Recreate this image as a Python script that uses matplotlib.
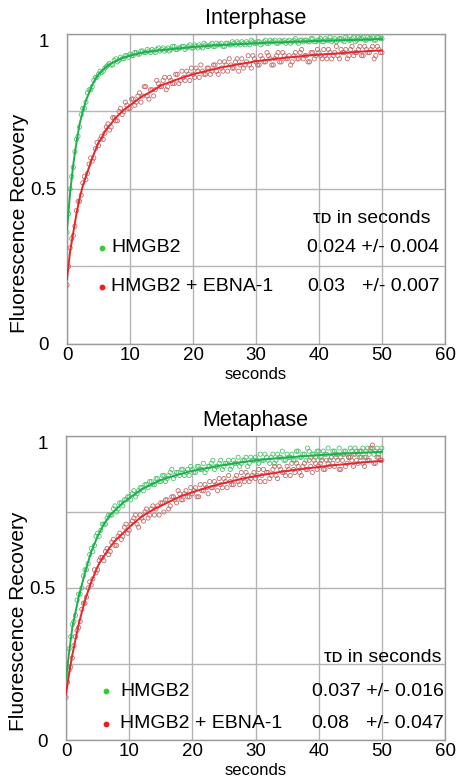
import numpy as np
import matplotlib
matplotlib.use('Agg')
import matplotlib.pyplot as plt

plt.rcParams['font.family'] = ['Liberation Sans', 'DejaVu Sans']

# время съёмки точек, с (два набора: целые/половинные и четвертные отсчёты)
t_a = np.arange(0, 50.01, 0.5)
t_b = np.arange(0.25, 50, 0.5)

# сетка для подогнанных кривых
t_fit = [0, 0.5, 1, 1.5, 2, 2.5, 3, 3.5, 4, 4.5, 5, 5.5, 6, 6.5, 7, 7.5, 8, 8.5, 9, 9.5, 10,
         11, 12, 13, 14, 15, 16, 17, 18, 19, 20,
         22, 24, 26, 28, 30, 32, 34, 36, 38, 40, 42, 44, 46, 48, 50]

# Interphase
inter_hmgb2_a = [0.36, 0.50, 0.57, 0.66, 0.70, 0.76, 0.78, 0.82, 0.83, 0.86,
                 0.87, 0.875, 0.89, 0.90, 0.90, 0.915, 0.91, 0.925, 0.92, 0.93,
                 0.935, 0.93, 0.94, 0.935, 0.945, 0.94, 0.945, 0.95, 0.94, 0.955,
                 0.95, 0.945, 0.955, 0.95, 0.96, 0.95, 0.955, 0.96, 0.955, 0.965,
                 0.955, 0.96, 0.965, 0.955, 0.965, 0.96, 0.97, 0.96, 0.965, 0.97,
                 0.96, 0.97, 0.965, 0.97, 0.975, 0.965, 0.97, 0.975, 0.965, 0.975,
                 0.97, 0.975, 0.97, 0.98, 0.97, 0.975, 0.98, 0.97, 0.975, 0.98,
                 0.975, 0.97, 0.98, 0.975, 0.98, 0.975, 0.98, 0.975, 0.985, 0.975,
                 0.98, 0.975, 0.985, 0.98, 0.975, 0.985, 0.98, 0.985, 0.975, 0.985,
                 0.98, 0.99, 0.98, 0.985, 0.99, 0.98, 0.985, 0.99, 0.98, 0.99,
                 0.985]
inter_hmgb2_b = [0.42, 0.54, 0.62, 0.67, 0.74, 0.76, 0.81, 0.82, 0.85, 0.86,
                 0.88, 0.88, 0.895, 0.905, 0.90, 0.92, 0.915, 0.92, 0.93, 0.925,
                 0.93, 0.94, 0.935, 0.945, 0.94, 0.95, 0.94, 0.945, 0.95, 0.945,
                 0.955, 0.95, 0.945, 0.96, 0.95, 0.955, 0.96, 0.95, 0.96, 0.955,
                 0.965, 0.955, 0.96, 0.97, 0.96, 0.965, 0.96, 0.97, 0.965, 0.96,
                 0.97, 0.965, 0.975, 0.965, 0.97, 0.975, 0.965, 0.97, 0.98, 0.97,
                 0.975, 0.965, 0.975, 0.97, 0.98, 0.975, 0.97, 0.98, 0.975, 0.97,
                 0.98, 0.975, 0.985, 0.97, 0.98, 0.98, 0.975, 0.985, 0.975, 0.98,
                 0.985, 0.975, 0.98, 0.99, 0.98, 0.975, 0.985, 0.98, 0.99, 0.98,
                 0.985, 0.975, 0.99, 0.985, 0.98, 0.99, 0.985, 0.98, 0.99, 0.985]
inter_ebna_a = [0.19, 0.31, 0.35, 0.43, 0.46, 0.52, 0.53, 0.58, 0.59, 0.63,
                0.64, 0.67, 0.68, 0.71, 0.70, 0.73, 0.72, 0.76, 0.75, 0.77,
                0.76, 0.79, 0.78, 0.81, 0.80, 0.83, 0.79, 0.82, 0.82, 0.84,
                0.83, 0.86, 0.83, 0.85, 0.84, 0.87, 0.85, 0.86, 0.88, 0.85,
                0.87, 0.89, 0.86, 0.88, 0.87, 0.89, 0.88, 0.90, 0.87, 0.89,
                0.91, 0.88, 0.90, 0.89, 0.92, 0.90, 0.89, 0.91, 0.90, 0.93,
                0.91, 0.90, 0.92, 0.91, 0.93, 0.90, 0.92, 0.94, 0.91, 0.93,
                0.92, 0.90, 0.93, 0.92, 0.94, 0.92, 0.93, 0.91, 0.94, 0.93,
                0.94, 0.92, 0.93, 0.95, 0.92, 0.94, 0.93, 0.95, 0.94, 0.92,
                0.95, 0.93, 0.94, 0.96, 0.93, 0.95, 0.94, 0.96, 0.93, 0.95,
                0.94]
inter_ebna_b = [0.25, 0.34, 0.38, 0.46, 0.48, 0.54, 0.55, 0.60, 0.60, 0.65,
                0.66, 0.66, 0.70, 0.69, 0.73, 0.72, 0.75, 0.74, 0.78, 0.76,
                0.79, 0.77, 0.80, 0.78, 0.83, 0.80, 0.82, 0.80, 0.85, 0.83,
                0.85, 0.82, 0.86, 0.84, 0.87, 0.84, 0.88, 0.85, 0.87, 0.89,
                0.86, 0.88, 0.90, 0.87, 0.89, 0.87, 0.90, 0.88, 0.91, 0.88,
                0.90, 0.92, 0.89, 0.91, 0.88, 0.92, 0.90, 0.93, 0.89, 0.92,
                0.90, 0.93, 0.91, 0.94, 0.92, 0.90, 0.93, 0.91, 0.94, 0.92,
                0.93, 0.91, 0.94, 0.92, 0.95, 0.93, 0.91, 0.94, 0.92, 0.95,
                0.93, 0.95, 0.92, 0.94, 0.93, 0.96, 0.92, 0.94, 0.95, 0.93,
                0.96, 0.94, 0.95, 0.93, 0.96, 0.94, 0.95, 0.92, 0.96, 0.94]
inter_hmgb2_fit = [0.37, 0.49, 0.58, 0.65, 0.71, 0.75, 0.785, 0.81, 0.835, 0.855,
                   0.87, 0.88, 0.89, 0.898, 0.905, 0.91, 0.915, 0.92, 0.924, 0.927, 0.93,
                   0.935, 0.94, 0.943, 0.946, 0.948, 0.95, 0.952, 0.954, 0.956, 0.958,
                   0.961, 0.964, 0.966, 0.968, 0.970, 0.972, 0.973, 0.975, 0.976, 0.978,
                   0.979, 0.980, 0.981, 0.982, 0.984]
inter_ebna_fit = [0.21, 0.30, 0.36, 0.42, 0.47, 0.51, 0.54, 0.57, 0.60, 0.625,
                  0.65, 0.665, 0.685, 0.70, 0.71, 0.725, 0.735, 0.745, 0.755, 0.763, 0.77,
                  0.785, 0.80, 0.81, 0.822, 0.835, 0.842, 0.85, 0.857, 0.864, 0.87,
                  0.88, 0.89, 0.898, 0.905, 0.912, 0.917, 0.922, 0.926, 0.93, 0.933,
                  0.936, 0.939, 0.942, 0.945, 0.947]

# Metaphase
meta_hmgb2_a = [0.21, 0.30, 0.38, 0.41, 0.48, 0.50, 0.56, 0.58, 0.63, 0.64,
                0.68, 0.69, 0.71, 0.73, 0.74, 0.76, 0.75, 0.78, 0.77, 0.79,
                0.80, 0.81, 0.80, 0.82, 0.83, 0.84, 0.83, 0.85, 0.84, 0.86,
                0.85, 0.87, 0.86, 0.88, 0.86, 0.88, 0.87, 0.89, 0.88, 0.87,
                0.89, 0.88, 0.90, 0.89, 0.88, 0.90, 0.91, 0.89, 0.90, 0.92,
                0.90, 0.91, 0.89, 0.92, 0.91, 0.90, 0.92, 0.93, 0.91, 0.92,
                0.93, 0.91, 0.92, 0.94, 0.92, 0.93, 0.91, 0.94, 0.93, 0.92,
                0.94, 0.93, 0.92, 0.95, 0.93, 0.94, 0.92, 0.95, 0.94, 0.93,
                0.95, 0.93, 0.94, 0.96, 0.93, 0.95, 0.94, 0.93, 0.95, 0.94,
                0.96, 0.94, 0.95, 0.93, 0.96, 0.95, 0.94, 0.96, 0.95, 0.94,
                0.96]
meta_hmgb2_b = [0.24, 0.34, 0.39, 0.46, 0.48, 0.54, 0.56, 0.61, 0.62, 0.67,
                0.67, 0.71, 0.71, 0.74, 0.74, 0.77, 0.76, 0.78, 0.79, 0.80,
                0.79, 0.82, 0.81, 0.83, 0.82, 0.84, 0.85, 0.84, 0.86, 0.85,
                0.87, 0.85, 0.87, 0.89, 0.87, 0.88, 0.89, 0.87, 0.89, 0.90,
                0.88, 0.90, 0.89, 0.91, 0.89, 0.90, 0.92, 0.90, 0.91, 0.89,
                0.91, 0.92, 0.90, 0.91, 0.93, 0.91, 0.92, 0.90, 0.93, 0.92,
                0.92, 0.94, 0.92, 0.93, 0.91, 0.94, 0.92, 0.93, 0.95, 0.92,
                0.93, 0.94, 0.92, 0.95, 0.93, 0.94, 0.96, 0.93, 0.94, 0.95,
                0.93, 0.95, 0.94, 0.92, 0.95, 0.94, 0.96, 0.94, 0.95, 0.93,
                0.95, 0.96, 0.94, 0.95, 0.93, 0.96, 0.95, 0.94, 0.96, 0.95]
meta_ebna_a = [0.14, 0.23, 0.27, 0.34, 0.37, 0.43, 0.45, 0.50, 0.51, 0.56,
               0.56, 0.60, 0.59, 0.63, 0.62, 0.66, 0.64, 0.68, 0.67, 0.71,
               0.69, 0.72, 0.74, 0.70, 0.73, 0.75, 0.73, 0.76, 0.74, 0.77,
               0.78, 0.75, 0.79, 0.77, 0.80, 0.78, 0.81, 0.79, 0.82, 0.80,
               0.81, 0.83, 0.80, 0.82, 0.84, 0.81, 0.83, 0.85, 0.82, 0.84,
               0.86, 0.83, 0.85, 0.84, 0.87, 0.84, 0.86, 0.88, 0.85, 0.87,
               0.86, 0.89, 0.87, 0.85, 0.88, 0.87, 0.90, 0.86, 0.89, 0.88,
               0.90, 0.87, 0.89, 0.91, 0.88, 0.90, 0.89, 0.92, 0.88, 0.91,
               0.90, 0.92, 0.89, 0.91, 0.93, 0.90, 0.92, 0.89, 0.94, 0.91,
               0.93, 0.90, 0.92, 0.95, 0.91, 0.93, 0.92, 0.97, 0.91, 0.93,
               0.92]
meta_ebna_b = [0.19, 0.24, 0.31, 0.36, 0.39, 0.45, 0.47, 0.52, 0.53, 0.55,
               0.59, 0.60, 0.62, 0.61, 0.65, 0.64, 0.67, 0.66, 0.70, 0.68,
               0.71, 0.73, 0.71, 0.74, 0.72, 0.76, 0.74, 0.77, 0.76, 0.74,
               0.78, 0.79, 0.76, 0.80, 0.79, 0.82, 0.79, 0.81, 0.80, 0.83,
               0.82, 0.80, 0.84, 0.82, 0.83, 0.85, 0.83, 0.84, 0.86, 0.83,
               0.85, 0.87, 0.84, 0.86, 0.85, 0.88, 0.85, 0.87, 0.86, 0.88,
               0.87, 0.85, 0.89, 0.88, 0.86, 0.89, 0.87, 0.90, 0.88, 0.87,
               0.89, 0.91, 0.88, 0.90, 0.87, 0.91, 0.89, 0.90, 0.92, 0.89,
               0.91, 0.89, 0.92, 0.90, 0.91, 0.93, 0.89, 0.92, 0.90, 0.93,
               0.92, 0.94, 0.91, 0.93, 0.90, 0.92, 0.96, 0.91, 0.93, 0.92]
meta_hmgb2_fit = [0.20, 0.29, 0.37, 0.42, 0.47, 0.51, 0.55, 0.585, 0.62, 0.645,
                  0.67, 0.69, 0.71, 0.725, 0.74, 0.75, 0.76, 0.77, 0.78, 0.787, 0.795,
                  0.81, 0.825, 0.835, 0.845, 0.855, 0.862, 0.868, 0.874, 0.88, 0.885,
                  0.893, 0.901, 0.908, 0.914, 0.92, 0.924, 0.928, 0.931, 0.934, 0.937,
                  0.94, 0.942, 0.944, 0.946, 0.948]
meta_ebna_fit = [0.15, 0.22, 0.28, 0.33, 0.38, 0.42, 0.46, 0.49, 0.52, 0.545,
                 0.57, 0.59, 0.605, 0.62, 0.635, 0.648, 0.66, 0.67, 0.68, 0.69, 0.70,
                 0.718, 0.735, 0.748, 0.76, 0.77, 0.78, 0.79, 0.80, 0.808, 0.815,
                 0.828, 0.84, 0.85, 0.86, 0.868, 0.875, 0.882, 0.888, 0.893, 0.898,
                 0.903, 0.907, 0.911, 0.915, 0.918]

labels = ['HMGB2', 'HMGB2 + EBNA-1']
tau_inter = [('0.024', '+/- 0.004'), ('0.03', '+/- 0.007')]
tau_meta = [('0.037', '+/- 0.016'), ('0.08', '+/- 0.047')]

GREEN_LINE = '#1fae4b'
GREEN_PT = '#4cc46e'
RED_LINE = '#e8262a'
RED_PT = '#c46a6a'
GRID = '#b4b4b4'


def draw_panel(ax, title, g_a, g_b, r_a, r_b, g_fit, r_fit, taus, lay):
    ax.set_xlim(0, 60)
    ax.set_ylim(0, 1)
    ax.set_xticks(range(0, 61, 10))
    ax.set_yticks([0, 0.25, 0.5, 0.75, 1])
    ax.set_yticklabels(['0', '', '0.5', '', '1'])
    ax.grid(True, color=GRID, lw=1)
    ax.set_axisbelow(True)
    for s in ax.spines.values():
        s.set_color('#9a9a9a')
        s.set_linewidth(1)
    ax.tick_params(axis='both', length=0, labelsize=13.5)
    ax.tick_params(axis='x', pad=2)
    ax.tick_params(axis='y', pad=17)
    ylabs = ax.get_yticklabels()
    for lab in ylabs:
        lab.set_horizontalalignment('center')
    ylabs[-1].set_verticalalignment('top')

    for tt, g, r in ((t_a, g_a, r_a), (t_b, g_b, r_b)):
        ax.scatter(tt, g, s=9, facecolors='none', edgecolors=GREEN_PT, linewidths=0.6, zorder=3)
        ax.scatter(tt, r, s=9, facecolors='none', edgecolors=RED_PT, linewidths=0.6, zorder=3)
    ax.plot(t_fit, g_fit, color=GREEN_LINE, lw=1.4, zorder=4)
    ax.plot(t_fit, r_fit, color=RED_LINE, lw=1.4, zorder=4)

    ax.set_title(title, fontsize=15.5, pad=7)
    ax.set_xlabel('seconds', fontsize=12, labelpad=2)
    ax.set_ylabel('Fluorescence Recovery', fontsize=15)
    ax.yaxis.set_label_coords(-0.10, 0.39)

    dx, tx, y1, y2, yh, hx, vx = lay
    ax.scatter([dx], [y1], s=10, color='#33cc33', zorder=5)
    ax.scatter([dx], [y2], s=10, color='#ee1c1c', zorder=5)
    ax.text(tx, y1, labels[0], fontsize=14, va='center')
    ax.text(tx, y2, labels[1], fontsize=14, va='center')
    ax.text(hx, yh, 'τᴅ in seconds', fontsize=14, va='center')

    # первая строка целиком, во второй ошибка выровнена по её правому краю
    first = ax.text(vx, y1, taus[0][0] + ' ' + taus[0][1], fontsize=14, va='center')
    rend = fig.canvas.get_renderer()
    bb = first.get_window_extent(rend)
    rx = ax.transData.inverted().transform((bb.x1, bb.y0))[0]
    ax.text(vx, y2, taus[1][0], fontsize=14, va='center')
    ax.text(rx, y2, taus[1][1], fontsize=14, va='center', ha='right')


fig = plt.figure(figsize=(4.59, 7.83), dpi=100)
ax1 = fig.add_axes([0.146, 0.5607, 0.8235, 0.3959])
ax2 = fig.add_axes([0.1438, 0.0549, 0.8257, 0.3883])

draw_panel(ax1, 'Interphase', inter_hmgb2_a, inter_hmgb2_b, inter_ebna_a, inter_ebna_b,
           inter_hmgb2_fit, inter_ebna_fit, tau_inter,
           (5.6, 7.0, 0.31, 0.185, 0.405, 39.0, 38.1))
draw_panel(ax2, 'Metaphase', meta_hmgb2_a, meta_hmgb2_b, meta_ebna_a, meta_ebna_b,
           meta_hmgb2_fit, meta_ebna_fit, tau_meta,
           (6.3, 8.6, 0.16, 0.053, 0.27, 40.9, 38.9))

fig.savefig('out.png', dpi=100)
